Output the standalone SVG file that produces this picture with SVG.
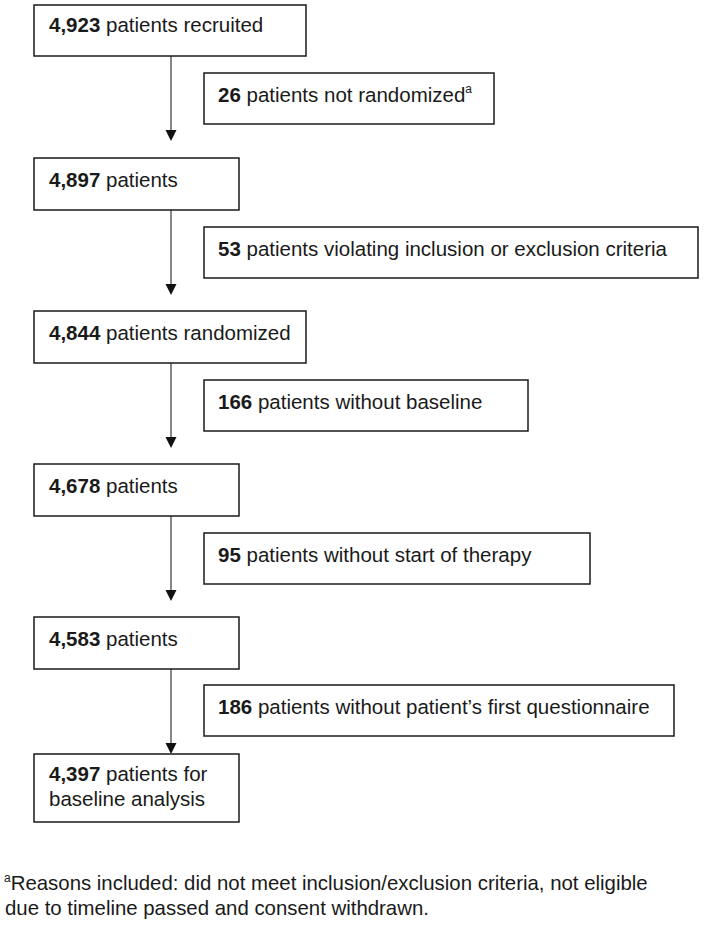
<svg xmlns="http://www.w3.org/2000/svg" width="705" height="937" viewBox="0 0 705 937">
<defs>
<style>
.box{fill:#fff;stroke:#1a1a1a;stroke-width:1.5}
.t{font-family:"Liberation Sans",Arial,sans-serif;font-size:20.5px;fill:#1a1a1a}
.b{font-weight:bold}
.fn{font-family:"Liberation Sans",Arial,sans-serif;font-size:20.4px;fill:#1a1a1a}
.ln{stroke:#7a7a7a;stroke-width:1.8;fill:none}
.ah{fill:#111}
</style>
</defs>
<rect width="705" height="937" fill="#fff"/>
<g id="connectors">
<line class="ln" x1="171" y1="56" x2="171" y2="132"/><polygon class="ah" points="165.5,130 176.5,130 171,141"/>
<line class="ln" x1="171" y1="210" x2="171" y2="286"/><polygon class="ah" points="165.5,284 176.5,284 171,295"/>
<line class="ln" x1="171" y1="363" x2="171" y2="439"/><polygon class="ah" points="165.5,437 176.5,437 171,448"/>
<line class="ln" x1="171" y1="516" x2="171" y2="592"/><polygon class="ah" points="165.5,590 176.5,590 171,601"/>
<line class="ln" x1="171" y1="669" x2="171" y2="745"/><polygon class="ah" points="165.5,743 176.5,743 171,754"/>
</g>
<g id="n1"><rect class="box" x="34" y="5" width="272" height="51"/><text class="t" x="49" y="32"><tspan class="b">4,923</tspan> patients recruited</text></g>
<g id="s1"><rect class="box" x="204" y="73" width="290" height="51"/><text class="t" x="218" y="102"><tspan class="b">26</tspan> patients not randomized<tspan font-size="12" dy="-9">a</tspan></text></g>
<g id="n2"><rect class="box" x="34" y="158" width="205" height="52"/><text class="t" x="49" y="187"><tspan class="b">4,897</tspan> patients</text></g>
<g id="s2"><rect class="box" x="204" y="227" width="494" height="51"/><text class="t" x="218" y="256"><tspan class="b">53</tspan> patients violating inclusion or exclusion criteria</text></g>
<g id="n3"><rect class="box" x="34" y="311" width="272" height="52"/><text class="t" x="49" y="340"><tspan class="b">4,844</tspan> patients randomized</text></g>
<g id="s3"><rect class="box" x="204" y="380" width="324" height="51"/><text class="t" x="218" y="409"><tspan class="b">166</tspan> patients without baseline</text></g>
<g id="n4"><rect class="box" x="34" y="464" width="205" height="52"/><text class="t" x="49" y="493"><tspan class="b">4,678</tspan> patients</text></g>
<g id="s4"><rect class="box" x="204" y="533" width="386" height="51"/><text class="t" x="218" y="562"><tspan class="b">95</tspan> patients without start of therapy</text></g>
<g id="n5"><rect class="box" x="34" y="617" width="205" height="52"/><text class="t" x="49" y="646"><tspan class="b">4,583</tspan> patients</text></g>
<g id="s5"><rect class="box" x="204" y="685" width="470" height="51"/><text class="t" x="218" y="714"><tspan class="b">186</tspan> patients without patient’s first questionnaire</text></g>
<g id="n6"><rect class="box" x="34" y="754" width="205" height="68"/><text class="t" x="49" y="781"><tspan class="b">4,397</tspan> patients for</text><text class="t" x="49" y="806">baseline analysis</text></g>
<g id="footnote"><text class="fn" x="4" y="890"><tspan font-size="12" dy="-8">a</tspan><tspan dy="8">Reasons included: did not meet inclusion/exclusion criteria, not eligible</tspan></text><text class="fn" x="5" y="915">due to timeline passed and consent withdrawn.</text></g>
</svg>
